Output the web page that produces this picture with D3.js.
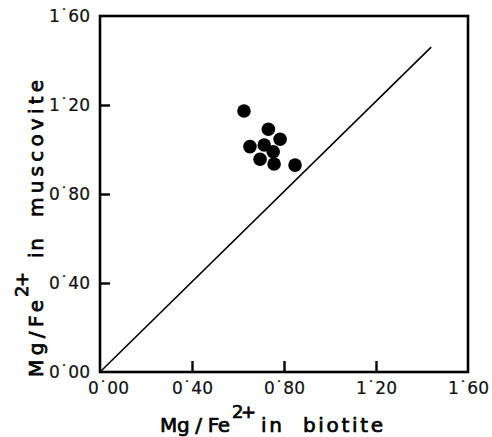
<!DOCTYPE html>
<html>
<head>
<meta charset="utf-8">
<script src="https://cdn.jsdelivr.net/npm/d3@7"></script>
<style>
  html, body { margin: 0; padding: 0; background: #fff; }
  svg { display: block; }
</style>
</head>
<body>
<div id="chart"></div>
<script>
// ---- data ----
const biotite   = [0.626, 0.732, 0.783, 0.652, 0.714, 0.753, 0.696, 0.757, 0.848];
const muscovite = [1.173, 1.091, 1.046, 1.013, 1.020, 0.990, 0.956, 0.935, 0.930];
const lineX = [0, 1.44];
const lineY = [0, 1.46];
const tickValues = [0, 0.4, 0.8, 1.2, 1.6];
const tickLabels = ["0˙00", "0˙40", "0˙80", "1˙20", "1˙60"];

const W = 492, H = 437;
const svg = d3.select("#chart").append("svg").attr("width", W).attr("height", H);

const x = d3.scaleLinear().domain([0, 1.6]).range([100, 468]);
const y = d3.scaleLinear().domain([0, 1.6]).range([372, 16]);

const fmt = d => tickLabels[tickValues.indexOf(d)];

// frame
svg.append("rect")
  .attr("x", x(0)).attr("y", y(1.6))
  .attr("width", x(1.6) - x(0)).attr("height", y(0) - y(1.6))
  .attr("fill", "none").attr("stroke", "#000").attr("stroke-width", 2.6);

// x axis
const gx = svg.append("g").attr("transform", `translate(0,${y(0)})`)
  .call(d3.axisBottom(x).tickValues(tickValues).tickFormat(fmt)
    .tickSizeInner(-11).tickSizeOuter(0).tickPadding(10));
gx.select(".domain").remove();
gx.selectAll(".tick line").attr("stroke", "#000").attr("stroke-width", 2.4)
  .filter(d => d === 0 || d === 1.6).remove();
gx.selectAll(".tick text")
  .attr("font-family", "DejaVu Sans").attr("font-size", 17).attr("fill", "#111")
  .attr("stroke", "#111").attr("stroke-width", 0.2)
  .attr("dx", d => d === 0 ? 8 : 0);

// y axis
const gy = svg.append("g").attr("transform", `translate(${x(0)},0)`)
  .call(d3.axisLeft(y).tickValues(tickValues).tickFormat(fmt)
    .tickSizeInner(-10).tickSizeOuter(0).tickPadding(10));
gy.select(".domain").remove();
gy.selectAll(".tick line").attr("stroke", "#000").attr("stroke-width", 2.4)
  .filter(d => d === 0 || d === 1.6).remove();
gy.selectAll(".tick text")
  .attr("font-family", "DejaVu Sans").attr("font-size", 17).attr("fill", "#111")
  .attr("stroke", "#111").attr("stroke-width", 0.2);

// 1:1 line
svg.append("line")
  .attr("x1", x(lineX[0])).attr("y1", y(lineY[0]))
  .attr("x2", x(lineX[1])).attr("y2", y(lineY[1]))
  .attr("stroke", "#000").attr("stroke-width", 1.6);

// points
svg.append("g").selectAll("circle")
  .data(biotite.map((b, i) => [b, muscovite[i]]))
  .join("circle")
  .attr("cx", d => x(d[0])).attr("cy", d => y(d[1]))
  .attr("r", 6.8).attr("fill", "#000");

// axis titles
const tstyle = s => s.attr("font-family", "DejaVu Sans")
  .attr("fill", "#000").attr("stroke", "#000").attr("stroke-width", 0.7)
  .attr("lengthAdjust", "spacing");

// x title
const xt = svg.append("g");
xt.append("text").text("Mg / Fe").attr("x", 160).attr("y", 432)
  .attr("font-size", 20).attr("textLength", 70).call(tstyle);
xt.append("text").text("2+").attr("x", 232).attr("y", 418)
  .attr("font-size", 18).attr("textLength", 24).call(tstyle);
xt.append("text").text("in").attr("x", 261).attr("y", 432)
  .attr("font-size", 20).attr("textLength", 21).call(tstyle);
xt.append("text").text("biotite").attr("x", 303).attr("y", 432)
  .attr("font-size", 20).attr("textLength", 80).call(tstyle);

// y title (rotated)
const yt = svg.append("g").attr("transform", "translate(43,0) rotate(-90)");
yt.append("text").text("Mg/Fe").attr("x", -377).attr("y", 0)
  .attr("font-size", 20).attr("textLength", 77).call(tstyle);
yt.append("text").text("2+").attr("x", -297).attr("y", -15)
  .attr("font-size", 18).attr("textLength", 25).call(tstyle);
yt.append("text").text("in").attr("x", -258).attr("y", 0)
  .attr("font-size", 20).attr("textLength", 20).call(tstyle);
yt.append("text").text("muscovite").attr("x", -217).attr("y", 0)
  .attr("font-size", 20).attr("textLength", 137).call(tstyle);
</script>
</body>
</html>
